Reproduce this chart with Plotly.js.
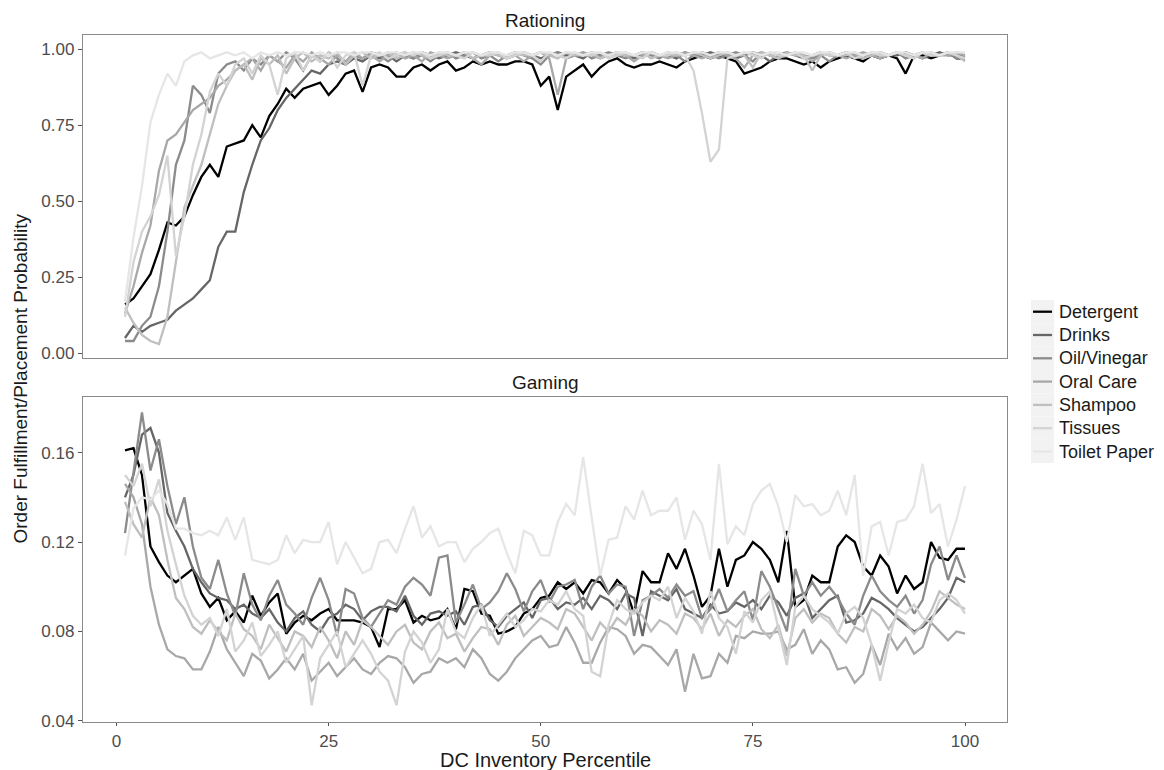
<!DOCTYPE html>
<html>
<head>
<meta charset="utf-8">
<script src="https://cdn.plot.ly/plotly-3.0.1.min.js"></script>
<style>html,body{margin:0;padding:0;background:#fff;}#chart{width:1164px;height:770px;}</style>
</head>
<body>
<div id="chart"></div>
<script>
// ---------- DATA ----------
const products = ["Detergent", "Drinks", "Oil/Vinegar", "Oral Care", "Shampoo", "Tissues", "Toilet Paper"];
const percentile = Array.from({length: 100}, (_, i) => i + 1);
const panels = ["Rationing", "Gaming"];
const yTicksRationing = [0.00, 0.25, 0.50, 0.75, 1.00];
const yTicksGaming = [0.04, 0.08, 0.12, 0.16];
const xTicks = [0, 25, 50, 75, 100];

const rationingDetergent = [
0.16,0.18,0.22,0.26,0.34,0.43,0.42,0.45,0.52,0.58,0.62,0.58,0.68,0.69,0.70,0.75,0.71,0.78,0.82,0.87,
0.84,0.87,0.88,0.89,0.85,0.88,0.92,0.93,0.86,0.94,0.95,0.94,0.91,0.91,0.94,0.95,0.93,0.95,0.96,0.93,
0.94,0.96,0.95,0.96,0.95,0.95,0.96,0.96,0.95,0.88,0.91,0.80,0.91,0.93,0.95,0.91,0.94,0.96,0.97,0.95,
0.94,0.95,0.95,0.96,0.95,0.94,0.96,0.97,0.98,0.97,0.98,0.97,0.96,0.92,0.93,0.94,0.96,0.97,0.97,0.96,
0.95,0.96,0.94,0.96,0.97,0.98,0.97,0.96,0.98,0.97,0.98,0.97,0.92,0.98,0.98,0.97,0.98,0.99,0.97,0.97];
const rationingDrinks = [
0.05,0.09,0.07,0.09,0.10,0.11,0.14,0.16,0.18,0.21,0.24,0.35,0.40,0.40,0.53,0.62,0.70,0.74,0.80,0.84,
0.87,0.90,0.93,0.92,0.95,0.96,0.95,0.97,0.96,0.98,0.97,0.98,0.96,0.98,0.97,0.99,0.98,0.97,0.98,0.99,
0.98,0.97,0.98,0.99,0.98,0.97,0.98,0.99,0.98,0.97,0.98,0.99,0.98,0.98,0.97,0.99,0.98,0.98,0.99,0.98,
0.97,0.98,0.99,0.98,0.98,0.97,0.99,0.98,0.98,0.99,0.98,0.98,0.97,0.98,0.99,0.98,0.96,0.98,0.99,0.98,
0.97,0.98,0.99,0.98,0.98,0.99,0.98,0.97,0.98,0.99,0.98,0.98,0.99,0.98,0.97,0.98,0.99,0.98,0.98,0.98];
const rationingOil = [
0.04,0.04,0.09,0.12,0.22,0.40,0.62,0.70,0.88,0.85,0.79,0.92,0.95,0.96,0.93,0.97,0.95,0.98,0.96,0.99,
0.97,0.93,0.98,0.96,0.99,0.97,0.95,0.98,0.97,0.99,0.98,0.96,0.98,0.99,0.97,0.98,0.96,0.98,0.99,0.97,
0.98,0.99,0.97,0.98,0.96,0.98,0.99,0.98,0.97,0.95,0.98,0.99,0.97,0.98,0.99,0.97,0.98,0.99,0.98,0.97,
0.98,0.99,0.98,0.97,0.99,0.98,0.96,0.98,0.99,0.98,0.97,0.98,0.99,0.98,0.96,0.99,0.98,0.97,0.99,0.98,
0.98,0.97,0.98,0.96,0.98,0.99,0.98,0.97,0.99,0.98,0.98,0.99,0.97,0.98,0.99,0.98,0.98,0.99,0.97,0.98];
const rationingOral = [
0.13,0.22,0.33,0.42,0.60,0.70,0.72,0.76,0.80,0.82,0.84,0.88,0.90,0.93,0.95,0.97,0.93,0.98,0.96,0.94,
0.98,0.96,0.99,0.97,0.95,0.98,0.96,0.99,0.97,0.98,0.96,0.98,0.99,0.97,0.98,0.96,0.99,0.98,0.97,0.98,
0.99,0.97,0.95,0.98,0.99,0.97,0.98,0.96,0.98,0.99,0.97,0.85,0.97,0.98,0.99,0.98,0.97,0.98,0.99,0.98,
0.96,0.98,0.99,0.98,0.97,0.98,0.99,0.98,0.97,0.98,0.99,0.98,0.97,0.94,0.98,0.99,0.98,0.97,0.98,0.99,
0.98,0.96,0.98,0.99,0.98,0.97,0.98,0.99,0.98,0.97,0.98,0.99,0.98,0.98,0.97,0.99,0.98,0.98,0.99,0.98];
const rationingShampoo = [
0.15,0.10,0.06,0.04,0.03,0.12,0.30,0.48,0.55,0.62,0.72,0.82,0.88,0.93,0.95,0.90,0.97,0.95,0.98,0.92,
0.97,0.99,0.96,0.98,0.97,0.99,0.95,0.98,0.99,0.97,0.98,0.99,0.97,0.98,0.99,0.98,0.97,0.99,0.98,0.98,
0.99,0.97,0.98,0.99,0.98,0.97,0.99,0.98,0.98,0.99,0.98,0.97,0.99,0.98,0.98,0.99,0.97,0.98,0.99,0.98,
0.98,0.99,0.97,0.98,0.99,0.98,0.98,0.99,0.98,0.97,0.98,0.99,0.98,0.98,0.94,0.99,0.98,0.97,0.99,0.98,
0.98,0.93,0.98,0.99,0.98,0.98,0.99,0.97,0.98,0.99,0.98,0.99,0.98,0.97,0.99,0.98,0.98,0.99,0.98,0.96];
const rationingTissues = [
0.12,0.30,0.40,0.45,0.52,0.65,0.32,0.45,0.62,0.72,0.86,0.92,0.88,0.95,0.97,0.92,0.98,0.95,0.85,0.97,
0.99,0.93,0.98,0.96,0.99,0.94,0.98,0.99,0.88,0.98,0.99,0.97,0.98,0.99,0.98,0.99,0.97,0.98,0.99,0.98,
0.97,0.99,0.98,0.98,0.99,0.97,0.98,0.99,0.98,0.96,0.99,0.98,0.97,0.99,0.98,0.98,0.99,0.97,0.98,0.99,
0.98,0.97,0.99,0.98,0.98,0.99,0.98,0.93,0.79,0.63,0.67,0.97,0.98,0.99,0.98,0.97,0.99,0.98,0.98,0.99,
0.97,0.98,0.99,0.98,0.98,0.99,0.97,0.98,0.99,0.98,0.98,0.99,0.98,0.97,0.99,0.98,0.98,0.99,0.98,0.97];
const rationingToilet = [
0.17,0.38,0.55,0.76,0.85,0.92,0.88,0.96,0.98,0.99,0.97,0.98,0.99,0.98,0.99,0.97,0.99,0.98,0.99,0.98,
0.99,0.99,0.98,0.99,0.98,0.99,0.99,0.98,0.99,0.99,0.98,0.99,0.99,0.98,0.99,0.99,0.98,0.99,0.99,0.98,
0.99,0.99,0.98,0.99,0.99,0.98,0.99,0.99,0.98,0.99,0.99,0.98,0.99,0.99,0.98,0.99,0.99,0.98,0.99,0.99,
0.98,0.99,0.99,0.98,0.99,0.99,0.98,0.99,0.99,0.98,0.99,0.99,0.98,0.99,0.99,0.98,0.99,0.99,0.98,0.99,
0.99,0.98,0.99,0.99,0.98,0.99,0.99,0.98,0.99,0.99,0.98,0.99,0.99,0.98,0.99,0.99,0.98,0.99,0.99,0.99];

const gamingDetergent = [
0.161,0.162,0.150,0.118,0.111,0.105,0.102,0.105,0.108,0.097,0.091,0.095,0.085,0.089,0.084,0.096,0.087,0.093,0.097,0.079,
0.084,0.087,0.085,0.088,0.090,0.085,0.085,0.085,0.084,0.082,0.073,0.090,0.090,0.094,0.084,0.087,0.085,0.086,0.090,0.081,
0.099,0.098,0.088,0.087,0.079,0.080,0.082,0.088,0.090,0.095,0.096,0.102,0.099,0.102,0.097,0.103,0.102,0.097,0.103,0.099,
0.088,0.107,0.102,0.102,0.115,0.108,0.117,0.105,0.091,0.096,0.117,0.100,0.112,0.114,0.120,0.117,0.112,0.102,0.125,0.091,
0.094,0.105,0.102,0.102,0.118,0.123,0.120,0.109,0.105,0.114,0.109,0.097,0.105,0.099,0.102,0.120,0.113,0.112,0.117,0.117];
const gamingDrinks = [
0.140,0.150,0.168,0.171,0.160,0.133,0.125,0.118,0.108,0.102,0.097,0.095,0.094,0.090,0.092,0.088,0.086,0.090,0.084,0.080,
0.086,0.089,0.083,0.080,0.086,0.088,0.092,0.090,0.085,0.089,0.091,0.091,0.089,0.096,0.087,0.083,0.088,0.089,0.087,0.089,
0.083,0.091,0.092,0.085,0.082,0.087,0.090,0.093,0.086,0.094,0.095,0.090,0.093,0.092,0.095,0.090,0.096,0.094,0.090,0.097,
0.095,0.078,0.098,0.096,0.094,0.099,0.090,0.088,0.086,0.092,0.088,0.089,0.093,0.091,0.094,0.090,0.096,0.093,0.087,0.095,
0.097,0.086,0.090,0.094,0.096,0.084,0.085,0.088,0.095,0.093,0.090,0.086,0.083,0.080,0.082,0.086,0.090,0.095,0.104,0.102];
const gamingOil = [
0.124,0.152,0.178,0.152,0.166,0.145,0.128,0.140,0.118,0.104,0.099,0.112,0.097,0.087,0.106,0.092,0.085,0.096,0.103,0.092,
0.088,0.083,0.095,0.104,0.094,0.078,0.099,0.097,0.086,0.082,0.088,0.094,0.092,0.100,0.104,0.101,0.096,0.113,0.114,0.084,
0.092,0.101,0.090,0.093,0.098,0.106,0.099,0.089,0.098,0.103,0.093,0.100,0.101,0.103,0.090,0.100,0.105,0.097,0.101,0.100,
0.078,0.094,0.096,0.099,0.095,0.101,0.096,0.098,0.086,0.090,0.099,0.089,0.094,0.098,0.085,0.107,0.100,0.090,0.080,0.108,
0.096,0.102,0.096,0.100,0.095,0.088,0.083,0.096,0.105,0.098,0.094,0.091,0.096,0.088,0.094,0.110,0.118,0.103,0.114,0.104];
const gamingOral = [
0.146,0.140,0.128,0.100,0.083,0.072,0.069,0.068,0.063,0.063,0.071,0.082,0.072,0.066,0.060,0.070,0.067,0.059,0.063,0.068,
0.063,0.070,0.058,0.062,0.066,0.060,0.064,0.068,0.063,0.061,0.066,0.069,0.068,0.064,0.057,0.061,0.062,0.068,0.066,0.068,
0.064,0.072,0.068,0.061,0.058,0.062,0.068,0.072,0.076,0.078,0.073,0.074,0.082,0.075,0.066,0.066,0.075,0.082,0.081,0.078,
0.070,0.074,0.073,0.069,0.065,0.072,0.053,0.070,0.059,0.060,0.070,0.066,0.078,0.077,0.080,0.079,0.079,0.080,0.072,0.074,
0.081,0.070,0.076,0.072,0.063,0.064,0.057,0.061,0.074,0.065,0.079,0.072,0.077,0.070,0.073,0.084,0.080,0.076,0.080,0.079];
const gamingShampoo = [
0.138,0.128,0.122,0.140,0.132,0.112,0.095,0.090,0.082,0.079,0.085,0.080,0.076,0.088,0.081,0.078,0.072,0.083,0.077,0.071,
0.080,0.078,0.073,0.082,0.076,0.068,0.080,0.074,0.085,0.082,0.078,0.074,0.080,0.083,0.075,0.072,0.080,0.084,0.077,0.079,
0.071,0.077,0.082,0.081,0.074,0.083,0.087,0.078,0.082,0.086,0.084,0.081,0.090,0.088,0.082,0.076,0.084,0.080,0.086,0.083,
0.090,0.087,0.080,0.085,0.083,0.079,0.088,0.086,0.081,0.088,0.078,0.085,0.082,0.087,0.090,0.081,0.077,0.083,0.069,0.086,
0.090,0.084,0.088,0.086,0.079,0.075,0.082,0.080,0.090,0.087,0.081,0.087,0.084,0.079,0.083,0.089,0.098,0.095,0.092,0.090];
const gamingTissues = [
0.150,0.145,0.155,0.136,0.148,0.125,0.110,0.096,0.087,0.083,0.086,0.078,0.090,0.071,0.076,0.084,0.069,0.074,0.080,0.066,
0.072,0.078,0.047,0.068,0.074,0.080,0.064,0.070,0.076,0.070,0.062,0.058,0.047,0.071,0.080,0.075,0.066,0.072,0.090,0.080,
0.077,0.086,0.092,0.078,0.083,0.088,0.082,0.085,0.090,0.089,0.094,0.092,0.098,0.090,0.087,0.062,0.060,0.083,0.094,0.090,
0.088,0.093,0.096,0.094,0.100,0.086,0.095,0.089,0.079,0.098,0.086,0.082,0.070,0.089,0.084,0.094,0.098,0.082,0.065,0.091,
0.096,0.090,0.087,0.084,0.079,0.088,0.091,0.086,0.074,0.058,0.075,0.090,0.088,0.092,0.086,0.084,0.094,0.097,0.094,0.088];
const gamingToilet = [
0.114,0.135,0.140,0.139,0.143,0.137,0.126,0.126,0.124,0.123,0.125,0.123,0.131,0.121,0.131,0.112,0.111,0.110,0.112,0.123,
0.115,0.121,0.120,0.120,0.129,0.110,0.120,0.113,0.106,0.108,0.120,0.121,0.115,0.126,0.136,0.122,0.127,0.118,0.120,0.120,
0.111,0.117,0.120,0.124,0.126,0.115,0.106,0.125,0.123,0.114,0.114,0.129,0.137,0.132,0.158,0.131,0.105,0.121,0.122,0.136,
0.130,0.143,0.132,0.134,0.134,0.140,0.121,0.134,0.128,0.112,0.155,0.119,0.127,0.123,0.137,0.143,0.146,0.136,0.120,0.141,
0.136,0.137,0.132,0.134,0.143,0.132,0.150,0.105,0.127,0.129,0.114,0.129,0.130,0.136,0.155,0.133,0.137,0.118,0.130,0.145];

const rationingValues = [rationingDetergent, rationingDrinks, rationingOil, rationingOral, rationingShampoo, rationingTissues, rationingToilet];
const gamingValues = [gamingDetergent, gamingDrinks, gamingOil, gamingOral, gamingShampoo, gamingTissues, gamingToilet];
const greys = ["#000000", "#666666", "#8b8b8b", "#a8a8a8", "#bfbfbf", "#d3d3d3", "#e6e6e6"];

// ---------- TRACES ----------
const LW = 2.3;
const traces = [];
products.forEach((p, i) => {
  traces.push({x: percentile, y: rationingValues[i], type: "scatter", mode: "lines", name: p,
    showlegend: false, xaxis: "x", yaxis: "y", line: {color: greys[i], width: LW}});
});
products.forEach((p, i) => {
  traces.push({x: percentile, y: gamingValues[i], type: "scatter", mode: "lines", name: p,
    showlegend: false, xaxis: "x2", yaxis: "y2", line: {color: greys[i], width: LW}});
});

const FONT = "Liberation Sans, Arial, Helvetica, sans-serif";
const ML = 83, MR = 157, MT = 35, MB = 48, W = 1164, H = 770;
const PW = W - ML - MR, PH = H - MT - MB;
const px2x = px => (px - ML) / PW;
const py2y = py => (H - MB - py) / PH;

// legend drawn as ggplot-style keys (grey key boxes, short lines, labels)
const shapes = [], annotations = [];
const legTop = 311.7, legStep = 23.3;
products.forEach((p, i) => {
  const cy = legTop + i * legStep;
  shapes.push({type: "rect", xref: "paper", yref: "paper", layer: "below",
    x0: px2x(1031), x1: px2x(1054), y0: py2y(cy + 11.6), y1: py2y(cy - 11.6),
    fillcolor: "#f2f2f2", line: {width: 0}});
  shapes.push({type: "line", xref: "paper", yref: "paper",
    x0: px2x(1033), x1: px2x(1052), y0: py2y(cy), y1: py2y(cy),
    line: {color: greys[i], width: LW}});
  annotations.push({text: p, xref: "paper", yref: "paper", x: px2x(1057), xanchor: "left",
    y: py2y(cy), yanchor: "middle", showarrow: false,
    font: {family: FONT, size: 18, color: "#1a1a1a"}});
});

annotations.push(
  {text: panels[0], xref: "paper", yref: "paper", x: 0.5, y: 1, yanchor: "bottom", yshift: 2,
    showarrow: false, font: {family: FONT, size: 19, color: "#1a1a1a"}},
  {text: panels[1], xref: "paper", yref: "paper", x: 0.5, y: 0.4735, yanchor: "bottom", yshift: 2,
    showarrow: false, font: {family: FONT, size: 19, color: "#1a1a1a"}},
  {text: "Order Fulfillment/Placement Probability", xref: "paper", yref: "paper",
    x: 0, xanchor: "center", xshift: -63, y: 0.5, yanchor: "middle", textangle: -90, showarrow: false,
    font: {family: FONT, size: 19, color: "#1a1a1a"}},
  {text: "DC Inventory Percentile", xref: "paper", yref: "paper",
    x: 0.5, xanchor: "center", y: 0, yanchor: "middle", yshift: -38, showarrow: false,
    font: {family: FONT, size: 20, color: "#1a1a1a"}}
);

const axBase = {showgrid: false, zeroline: false, showline: true, mirror: true,
  linecolor: "#8a8a8a", linewidth: 1.2, ticks: "outside", ticklen: 4, tickcolor: "#555",
  tickfont: {family: FONT, size: 17, color: "#4d4d4d"}};

const layout = {
  width: W, height: H,
  margin: {l: ML, r: MR, t: MT, b: MB},
  paper_bgcolor: "#ffffff", plot_bgcolor: "#ffffff",
  font: {family: FONT, color: "#1a1a1a"},
  showlegend: false,
  xaxis: Object.assign({}, axBase, {domain: [0, 1], anchor: "y", range: [-3.95, 104.95],
    tickvals: xTicks, showticklabels: false, ticks: ""}),
  yaxis: Object.assign({}, axBase, {domain: [0.5298, 1], anchor: "x", range: [-0.016, 1.047],
    tickvals: yTicksRationing, ticktext: yTicksRationing.map(v => v.toFixed(2))}),
  xaxis2: Object.assign({}, axBase, {domain: [0, 1], anchor: "y2", range: [-3.95, 104.95],
    tickvals: xTicks, ticktext: xTicks.map(String), ticklen: 3}),
  yaxis2: Object.assign({}, axBase, {domain: [0, 0.4735], anchor: "x2", range: [0.0395, 0.185],
    tickvals: yTicksGaming, ticktext: yTicksGaming.map(v => v.toFixed(2))}),
  shapes: shapes,
  annotations: annotations
};

Plotly.newPlot("chart", traces, layout, {displayModeBar: false, staticPlot: true});
</script>
</body>
</html>
